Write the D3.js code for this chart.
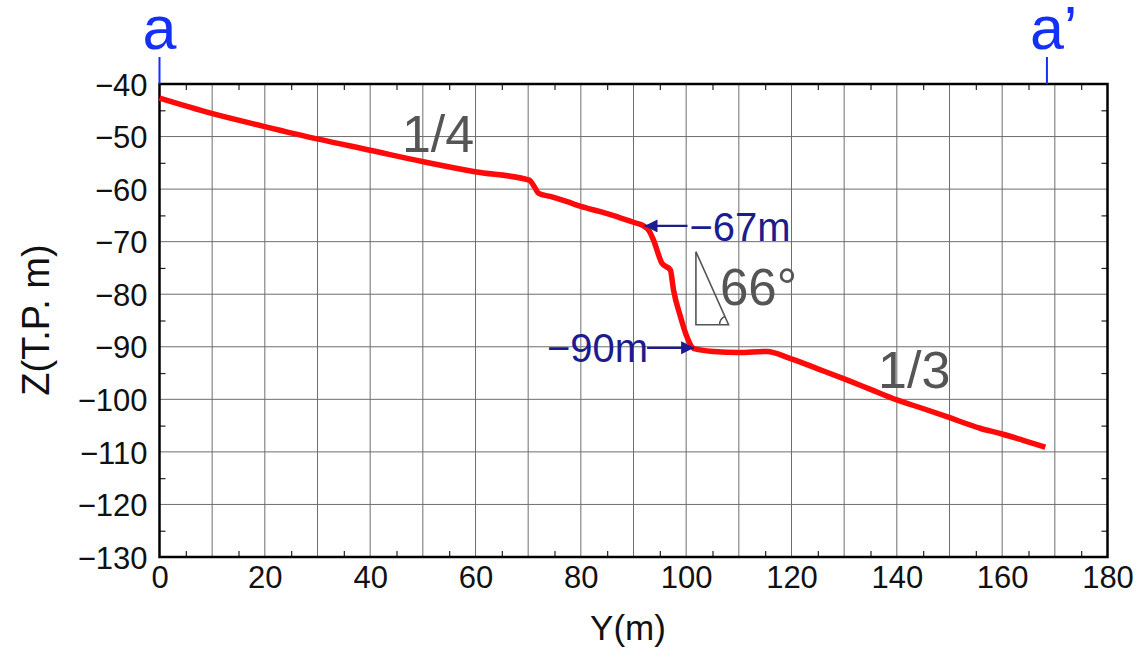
<!DOCTYPE html>
<html><head><meta charset="utf-8">
<script src="https://cdn.jsdelivr.net/npm/d3@7"></script>
<style>body{margin:0;background:#fff;} svg{display:block;}</style>
</head><body>
<svg id="chart" width="1145" height="660"></svg>
<script>
// ---- data ----
const profileY = [0,9.9,20,30.2,40,50.1,59.9,70.2,71.2,72,74.2,77.4,80,83.7,87,90.6,91.9,93,93.8,95.4,97.0,97.6,98.9,100.1,101.4,105.2,110,115.3,119.7,125,130.5,135,140,144.8,149.5,155.8,160,164,168.2];
const profileZ = [-42.7,-45.6,-48.1,-50.5,-52.6,-54.8,-56.7,-58.3,-59.6,-60.8,-61.4,-62.4,-63.3,-64.3,-65.3,-66.5,-67.0,-68.0,-69.7,-74.1,-75.4,-79.2,-84.2,-88.0,-90.3,-90.9,-91.1,-90.9,-92.2,-94.2,-96.3,-98.1,-100.1,-101.7,-103.3,-105.5,-106.6,-107.8,-109.1];
const xTickLabels = [0,20,40,60,80,100,120,140,160,180];
const yTickLabels = [-40,-50,-60,-70,-80,-90,-100,-110,-120,-130];
const xGrid = d3.range(0,181,10);
const yGrid = d3.range(-130,-39,10);
const xMinor = d3.range(5,180,10);
const yMinor = d3.range(-125,-40,10);
const sectionMarks = [{label:"a", y:0},{label:"a’", y:168.5}];
const depthLabels = [{text:"−67m", z:-67, tipY:91.9, dir:"left"},{text:"−90m", z:-90.2, tipY:101.7, dir:"right"}];
const slopeLabels = [{text:"1/4", y:52.9, z:-52.9},{text:"1/3", y:143.3, z:-97.8}];
const angleText = "66°";

const svg = d3.select("#chart");
const L=159.5, R=1107.5, T=84, B=557;
const x = d3.scaleLinear().domain([0,180]).range([L,R]);
const y = d3.scaleLinear().domain([-130,-40]).range([B,T]);
const font = "'Liberation Sans', Arial, sans-serif";
const fmt = d => d<0 ? "−"+Math.abs(d) : String(d);

// gridlines
svg.append("g").selectAll("line").data(xGrid).join("line")
  .attr("x1",d=>x(d)).attr("x2",d=>x(d)).attr("y1",T).attr("y2",B)
  .attr("stroke","#6e6e6e").attr("stroke-width",1);
svg.append("g").selectAll("line").data(yGrid).join("line")
  .attr("y1",d=>y(d)).attr("y2",d=>y(d)).attr("x1",L).attr("x2",R)
  .attr("stroke","#6e6e6e").attr("stroke-width",1);

// minor ticks (inside) via axes
function styleAxis(g){ g.select(".domain").remove(); g.selectAll("line").attr("stroke","#222").attr("stroke-width",1.2); g.selectAll("text").remove(); }
svg.append("g").attr("transform",`translate(0,${B})`).call(d3.axisBottom(x).tickValues(xMinor).tickSize(-6)).call(styleAxis);
svg.append("g").attr("transform",`translate(0,${T})`).call(d3.axisTop(x).tickValues(xMinor).tickSize(-6)).call(styleAxis);
svg.append("g").attr("transform",`translate(${L},0)`).call(d3.axisLeft(y).tickValues(yMinor).tickSize(-6)).call(styleAxis);
svg.append("g").attr("transform",`translate(${R},0)`).call(d3.axisRight(y).tickValues(yMinor).tickSize(-6)).call(styleAxis);

// tick labels
const xa = svg.append("g").attr("transform",`translate(0,${B})`)
  .call(d3.axisBottom(x).tickValues(xTickLabels).tickSize(0).tickPadding(9).tickFormat(fmt));
xa.select(".domain").remove();
xa.selectAll("text").attr("font-family",font).attr("font-size",31).attr("fill","#111");
const ya = svg.append("g").attr("transform",`translate(${L},0)`)
  .call(d3.axisLeft(y).tickValues(yTickLabels).tickSize(0).tickPadding(12).tickFormat(fmt));
ya.select(".domain").remove();
ya.selectAll("text").attr("font-family",font).attr("font-size",31).attr("fill","#111").attr("dy","0.36em");

// frame
svg.append("rect").attr("x",L).attr("y",T).attr("width",R-L).attr("height",B-T)
  .attr("fill","none").attr("stroke","#000").attr("stroke-width",2.5);

// axis titles
svg.append("text").attr("x",628).attr("y",640).attr("text-anchor","middle")
  .attr("font-family",font).attr("font-size",35).attr("fill","#111").text("Y(m)");
svg.append("text").attr("transform","translate(49,320) rotate(-90)").attr("text-anchor","middle")
  .attr("font-family",font).attr("font-size",38).attr("fill","#111").text("Z(T.P. m)");

// profile line
const line = d3.line().curve(d3.curveMonotoneX).x((d,i)=>x(profileY[i])).y((d,i)=>y(profileZ[i]));
svg.append("path").datum(profileY).attr("d",line).attr("fill","none")
  .attr("stroke","#ff0a0a").attr("stroke-width",5.5).attr("stroke-linejoin","round").attr("stroke-linecap","butt");

// section marks a / a'
const blue = "#1530f5";
sectionMarks.forEach(m=>{
  svg.append("line").attr("x1",x(m.y)).attr("x2",x(m.y)).attr("y1",57).attr("y2",T)
    .attr("stroke",blue).attr("stroke-width",2);
  svg.append("text").attr("x",x(m.y)-17).attr("y",49).attr("text-anchor","start")
    .attr("font-family",font).attr("font-size",61).attr("fill",blue).text(m.label);
});

// slope labels
slopeLabels.forEach(s=>{
  svg.append("text").attr("x",x(s.y)).attr("y",y(s.z)).attr("text-anchor","middle")
    .attr("font-family",font).attr("font-size",52).attr("fill","#555").text(s.text);
});

// depth arrows
const navy = "#1c1c8e";
svg.append("defs").append("marker").attr("id","ah").attr("viewBox","0 0 10 10")
  .attr("refX",10).attr("refY",5).attr("markerUnits","userSpaceOnUse").attr("orient","auto")
  .attr("markerWidth",18).attr("markerHeight",13)
  .append("path").attr("d","M0,0 L10,5 L0,10 Z").attr("fill",navy);
depthLabels.forEach(dl=>{
  const tipX = x(dl.tipY), yy = y(dl.z);
  if(dl.dir==="left"){
    svg.append("line").attr("x1",tipX+44).attr("x2",tipX+1).attr("y1",yy).attr("y2",yy)
      .attr("stroke",navy).attr("stroke-width",2.2).attr("marker-end","url(#ah)");
    svg.append("text").attr("x",tipX+46).attr("y",yy+15).attr("font-family",font)
      .attr("font-size",40).attr("fill",navy).text(dl.text);
  } else {
    svg.append("line").attr("x1",tipX-48).attr("x2",tipX-1).attr("y1",yy).attr("y2",yy)
      .attr("stroke",navy).attr("stroke-width",2.2).attr("marker-end","url(#ah)");
    svg.append("text").attr("x",tipX-47).attr("y",yy+14).attr("text-anchor","end").attr("font-family",font)
      .attr("font-size",40).attr("fill",navy).text(dl.text);
  }
});

// angle triangle
const tx0 = x(101.85), tx1 = x(108.05), ty0 = y(-71.9), ty1 = y(-85.8);
svg.append("path").attr("d",`M${tx0},${ty0} L${tx0},${ty1} L${tx1},${ty1} Z`)
  .attr("fill","none").attr("stroke","#555").attr("stroke-width",1.6);
const r=9, a=Math.atan2(ty1-ty0, tx1-tx0);
svg.append("path").attr("d",`M${tx1-r},${ty1} A${r},${r} 0 0 1 ${tx1-r*Math.cos(a)},${ty1-r*Math.sin(a)}`)
  .attr("fill","none").attr("stroke","#555").attr("stroke-width",1.4);
svg.append("text").attr("x",tx0+24).attr("y",ty0+53).attr("font-family",font)
  .attr("font-size",51).attr("fill","#555").text(angleText);
</script>
</body></html>
